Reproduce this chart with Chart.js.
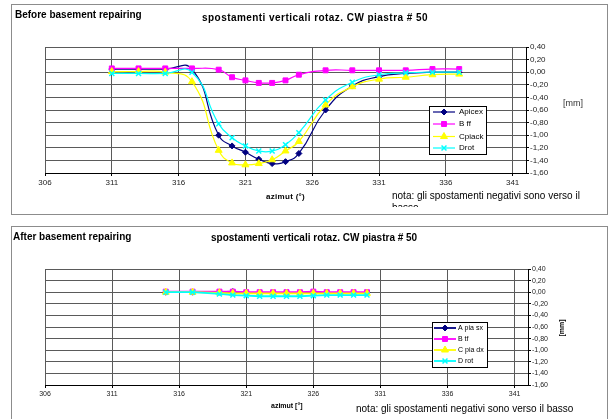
<!DOCTYPE html>
<html>
<head>
<meta charset="utf-8">
<script src="https://cdn.jsdelivr.net/npm/chart.js@4.4.1/dist/chart.umd.min.js"></script>
<style>
  body { margin: 0; background: #fff; font-family: Arial, "Liberation Sans", sans-serif; }
  #page { position: relative; width: 611px; height: 419px; overflow: hidden; }
  .frame { position: absolute; border: 1px solid #8c8c8c; box-sizing: border-box; }
  .txt { position: absolute; white-space: nowrap; color: #000; line-height: 12px; }
  canvas { position: absolute; left: 0; }
</style>
</head>
<body>
<div id="page">
  <div class="frame" style="left:11px;top:4px;width:597px;height:211px;"></div>
  <div class="frame" style="left:11px;top:226px;width:597px;height:200px;"></div>

  <canvas id="chartBefore" width="611" height="215" style="top:0px;"></canvas>
  <canvas id="chartAfter" width="611" height="199" style="top:220px;"></canvas>

  <!-- before -->
  <div class="txt" style="left:15px;top:9px;font-size:10px;font-weight:bold;">Before basement repairing</div>
  <div class="txt" style="left:202px;top:12px;font-size:10px;font-weight:bold;letter-spacing:0.45px;">spostamenti verticali rotaz. CW piastra # 50</div>
  <div class="txt" style="left:563px;top:97px;font-size:9px;color:#333;">[mm]</div>
  <div class="txt" style="left:266px;top:191px;font-size:8px;font-weight:bold;letter-spacing:0.3px;">azimut (°)</div>
  <div class="txt" style="left:392px;top:190px;width:195px;height:17px;overflow:hidden;white-space:normal;font-size:10px;">nota: gli spostamenti negativi sono verso il basso</div>

  <!-- after -->
  <div class="txt" style="left:13px;top:231px;font-size:10px;font-weight:bold;">After basement repairing</div>
  <div class="txt" style="left:211px;top:232px;font-size:10px;font-weight:bold;">spostamenti verticali rotaz. CW piastra # 50</div>
  <div class="txt" style="left:553px;top:322px;font-size:7px;font-weight:bold;transform:rotate(-90deg);">[mm]</div>
  <div class="txt" style="left:271px;top:400px;font-size:7px;font-weight:bold;">azimut [°]</div>
  <div class="txt" style="left:356px;top:403px;font-size:10px;">nota: gli spostamenti negativi sono verso il basso</div>
</div>

<script>
// before basement repairing
const beforeAzimuth = [311, 313, 315, 317, 319, 320, 321, 322, 323, 324, 325, 327, 329, 331, 333, 335, 337];
const beforeApicex  = [0.05, 0.05, 0.05, 0.05, -1.00, -1.17, -1.27, -1.38, -1.45, -1.42, -1.29, -0.60, -0.22, -0.07, -0.02, 0.00, 0.00];
const beforeBff     = [0.06, 0.06, 0.06, 0.06, 0.04, -0.08, -0.13, -0.17, -0.17, -0.13, -0.04, 0.03, 0.03, 0.03, 0.03, 0.05, 0.05];
const beforeCpiack  = [0.01, 0.01, 0.00, -0.15, -1.24, -1.44, -1.47, -1.45, -1.39, -1.25, -1.10, -0.52, -0.23, -0.11, -0.08, -0.04, -0.03];
const beforeDrot    = [-0.02, -0.02, -0.02, 0.00, -0.82, -1.04, -1.17, -1.25, -1.25, -1.15, -0.96, -0.44, -0.16, -0.04, -0.01, 0.00, 0.00];

// after basement repairing
const afterAzimuth = [315, 317, 319, 320, 321, 322, 323, 324, 325, 326, 327, 328, 329, 330];
const afterApiaSx  = [0.00, 0.00, 0.00, 0.01, -0.01, -0.01, -0.01, -0.01, -0.01, -0.01, -0.01, -0.01, -0.01, -0.01];
const afterBtf     = [0.01, 0.01, 0.01, 0.01, 0.00, 0.00, 0.00, 0.00, 0.00, 0.01, 0.00, 0.00, 0.00, 0.00];
const afterCpiaDx  = [0.00, 0.00, -0.01, -0.02, -0.02, -0.02, -0.02, -0.02, -0.02, -0.02, -0.02, -0.02, -0.02, -0.02];
const afterDrot    = [0.00, 0.00, -0.03, -0.05, -0.06, -0.07, -0.07, -0.07, -0.07, -0.06, -0.05, -0.05, -0.05, -0.05];

const azimutTicks = [306, 311, 316, 321, 326, 331, 336, 341];
const mmMin = -1.6;
const mmMax = 0.4;

Chart.defaults.font.family = 'Arial, "Liberation Sans", sans-serif';
Chart.defaults.color = '#222';

const NAVY = '#000080', MAGENTA = '#ff00ff', YELLOW = '#ffff00', CYAN = '#00ffff';

function toPoints(xs, ys) {
  return xs.map((x, i) => ({ x: x, y: ys[i] }));
}

function fmtMm(v) {
  const n = Math.abs(v) < 1e-9 ? 0 : v;
  return n.toFixed(2).replace('.', ',');
}

// legend box drawn inside the plot, like the spreadsheet one
const boxLegend = {
  id: 'boxLegend',
  afterDraw(chart, args, o) {
    const ctx = chart.ctx;
    ctx.save();
    ctx.fillStyle = '#fff';
    ctx.fillRect(o.x, o.y, o.w, o.h);
    ctx.strokeStyle = '#000';
    ctx.lineWidth = 1;
    ctx.strokeRect(o.x + 0.5, o.y + 0.5, o.w, o.h);
    chart.data.datasets.forEach((ds, i) => {
      const y = o.rows[i];
      ctx.strokeStyle = ds.borderColor;
      ctx.lineWidth = ds.borderWidth;
      ctx.beginPath();
      ctx.moveTo(o.x0, y);
      ctx.lineTo(o.x1, y);
      ctx.stroke();
      ctx.fillStyle = ds.pointBackgroundColor;
      ctx.strokeStyle = ds.pointBorderColor;
      ctx.lineWidth = ds.pointBorderWidth;
      Chart.helpers.drawPoint(ctx, {
        pointStyle: ds.pointStyle, radius: ds.pointRadius,
        borderWidth: ds.pointBorderWidth, rotation: 0
      }, (o.x0 + o.x1) / 2, y);
      ctx.fillStyle = '#000';
      ctx.font = o.font;
      ctx.textBaseline = 'middle';
      ctx.fillText(ds.label, o.tx, y);
    });
    ctx.restore();
  }
};

function makeSet(label, xs, ys, color, style, r, order, lineW, tension) {
  return {
    label: label,
    data: toPoints(xs, ys),
    borderColor: color,
    backgroundColor: color,
    borderWidth: lineW,
    pointStyle: style,
    pointRadius: r,
    pointBackgroundColor: color,
    pointBorderColor: color,
    pointBorderWidth: style === 'crossRot' ? 1.5 : 1,
    tension: tension,
    order: order
  };
}

function makeOptions(pad, yWidth, xHeight, tickFont, legendOpts) {
  return {
    responsive: false,
    animation: false,
    events: [],
    layout: { padding: pad },
    plugins: {
      legend: { display: false },
      tooltip: { enabled: false },
      boxLegend: legendOpts
    },
    scales: {
      x: {
        type: 'linear',
        min: 306,
        max: 342,
        afterBuildTicks: (s) => { s.ticks = azimutTicks.map(v => ({ value: v })); },
        afterFit: (s) => { s.height = xHeight; },
        ticks: { callback: (v) => String(v), font: { size: tickFont }, padding: 2, maxRotation: 0, autoSkip: false },
        grid: { color: '#5a5a5a', tickLength: 3, tickColor: '#000' },
        border: { color: '#000' }
      },
      y: {
        position: 'right',
        min: mmMin,
        max: mmMax,
        afterFit: (s) => { s.width = yWidth; },
        ticks: { stepSize: 0.2, callback: fmtMm, font: { size: tickFont }, padding: 1 },
        grid: { color: '#5a5a5a', tickLength: 3, tickColor: '#000' },
        border: { color: '#000' }
      }
    }
  };
}

new Chart(document.getElementById('chartBefore'), {
  type: 'line',
  data: {
    datasets: [
      makeSet('Apicex', beforeAzimuth, beforeApicex, NAVY, 'rectRot', 3, 4, 1.2, 0.5),
      makeSet('B ff', beforeAzimuth, beforeBff, MAGENTA, 'rect', 3.5, 3, 1.2, 0.5),
      makeSet('Cpiack', beforeAzimuth, beforeCpiack, YELLOW, 'triangle', 4, 2, 1.2, 0.5),
      makeSet('Drot', beforeAzimuth, beforeDrot, CYAN, 'crossRot', 3.5, 1, 1.2, 0.5)
    ]
  },
  options: makeOptions({ left: 45, top: 47, right: 45, bottom: 22 }, 40, 20, 8,
    { x: 429, y: 106, w: 57, h: 48, rows: [112, 124, 136.5, 148], x0: 433, x1: 455, tx: 459, font: '8px Arial, "Liberation Sans", sans-serif' }),
  plugins: [boxLegend]
});

new Chart(document.getElementById('chartAfter'), {
  type: 'line',
  data: {
    datasets: [
      makeSet('A pia sx', afterAzimuth, afterApiaSx, NAVY, 'rectRot', 3, 4, 1.8, 0),
      makeSet('B tf', afterAzimuth, afterBtf, MAGENTA, 'rect', 3.5, 3, 1.8, 0),
      makeSet('C pia dx', afterAzimuth, afterCpiaDx, YELLOW, 'triangle', 4, 2, 1.8, 0),
      makeSet('D rot', afterAzimuth, afterDrot, CYAN, 'crossRot', 3.5, 1, 1.8, 0)
    ]
  },
  options: makeOptions({ left: 45, top: 49, right: 43, bottom: 14 }, 40, 20, 7,
    { x: 432, y: 102, w: 55, h: 45, rows: [108, 119, 130, 141], x0: 434, x1: 456, tx: 458, font: '7px Arial, "Liberation Sans", sans-serif' }),
  plugins: [boxLegend]
});
</script>
</body>
</html>
